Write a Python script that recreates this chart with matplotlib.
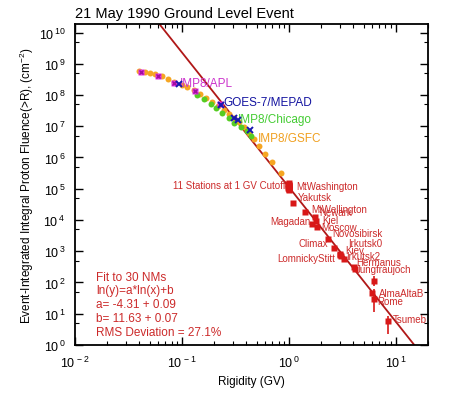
# -*- coding: utf-8 -*-
"""21 May 1990 GLE: integral proton fluence vs rigidity (satellites + neutron monitors)."""
import numpy as np
import matplotlib
matplotlib.use("Agg")
import matplotlib.pyplot as plt
from matplotlib.ticker import LogLocator, NullFormatter, FuncFormatter

plt.rcParams["font.family"] = ["Liberation Sans", "DejaVu Sans"]
plt.rcParams["mathtext.fontset"] = "custom"
plt.rcParams["mathtext.rm"] = "Liberation Sans"
plt.rcParams["mathtext.it"] = "Liberation Sans"

# %% Data
# IMP8/GSFC (orange circles)
gsfc_R = [0.0394, 0.0448, 0.0499, 0.0555, 0.0645, 0.0733, 0.0851, 0.0990, 0.1125,
          0.1307, 0.1487, 0.169, 0.192, 0.218, 0.2485, 0.2767, 0.308, 0.343,
          0.381, 0.4246, 0.472, 0.526, 0.60, 0.70, 0.84]
gsfc_F = [5.8e8, 5.5e8, 5.1e8, 4.6e8, 4.0e8, 3.2e8, 2.56e8, 2.06e8, 1.77e8,
          1.42e8, 1.06e8, 7.9e7, 5.9e7, 4.4e7, 3.3e7, 2.45e7, 1.8e7, 1.35e7,
          9.2e6, 6.3e6, 3.85e6, 2.3e6, 1.27e6, 7.1e5, 3.1e5]
# IMP8/Chicago (green circles)
chi_R = [0.139, 0.162, 0.188, 0.209, 0.237, 0.277, 0.308, 0.358, 0.406, 0.445]
chi_F = [1.0e8, 7.4e7, 5.2e7, 3.9e7, 2.7e7, 1.9e7, 1.3e7, 9.6e6, 7.0e6, 5.0e6]
# IMP8/APL (magenta)
apl_R = [0.0411, 0.0594, 0.0851, 0.1335, 0.228]
apl_F = [5.5e8, 4.0e8, 2.4e8, 1.35e8, 5.0e7]
# GOES-7/MEPAD (blue crosses)
goes_R = [0.0948, 0.233, 0.308, 0.334, 0.434]
goes_F = [2.2e8, 4.65e7, 1.9e7, 1.56e7, 7.4e6]

# 11 neutron monitors at ~1 GV cutoff
nm1_R = [0.99, 1.0, 1.01, 0.99, 1.0, 1.01, 1.0, 0.99, 1.01, 1.0, 1.0]
nm1_F = [1.42e5, 1.36e5, 1.3e5, 1.24e5, 1.18e5, 1.13e5, 1.08e5, 1.04e5, 1.0e5, 9.7e4, 9.4e4]

# labelled neutron monitors
nm_names = ["MtWashington", "Yakutsk", "MtWellington", "Newark", "Kiel", "Magadan",
            "Moscow", "Novosibirsk", "Climax", "Irkutsk0", "Kiev", "LomnickyStitt",
            "Irkutsk2", "Hermanus", "Jungfraujoch", "", "AlmaAltaB", "Rome", "Tsumeb"]
nm_R = [1.0, 1.097, 1.41, 1.77, 1.79, 1.63, 1.83, 2.32, 2.62, 3.03, 3.09, 2.98,
        3.25, 4.03, 4.17, 6.18, 5.96, 6.31, 8.51]
nm_F = [1.55e5, 3.44e4, 1.86e4, 1.2e4, 9.3e3, 7.7e3, 6.0e3, 2.42e3, 1.22e3, 800,
        706, 760, 574, 323, 265, 112, 47.6, 29, 5.9]
nm_err_lo = [0, 0, 0, 0, 0, 0, 0, 0, 0, 0, 0, 0, 0, 0, 0, 35, 0, 18, 3.7]
nm_err_hi = [0, 0, 0, 0, 0, 0, 0, 0, 0, 0, 0, 0, 0, 0, 0, 50, 0, 32, 2.6]

# fit ln(y) = a*ln(x) + b
fit_a, fit_b = -4.31, 11.63

# label offsets in pixels (dx, dy) and alignment
lab_off = [(7, -3), (5, 6), (6, 3), (4, 5), (6, 1), (-1, 3), (4, 0), (4, 6), (-6, 5),
           (8, 11), (4, 6), (-4, -3), (2, 3), (3, 5), (1, 0), (0, 0), (7, 0), (3, -2), (4, 2)]
lab_ha = ["left", "left", "left", "left", "left", "right", "left", "left", "right",
          "left", "left", "right", "left", "left", "left", "left", "left", "left", "left"]

RED = "#d81818"
TXT_RED = "#cc2a2a"


def pow10(v, pos):
    e = int(round(np.log10(v)))
    return r"$10^{\,%d}$" % e


# %% Figure
fig = plt.figure(figsize=(4.52, 4.06), dpi=100)
ax = fig.add_axes([0.166, 0.148, 0.781, 0.79])
ax.set_xscale("log")
ax.set_yscale("log")
ax.set_xlim(0.01, 20)
ax.set_ylim(1, 1.85e10)

# fit line
xf = np.logspace(-2, np.log10(20), 200)
ax.plot(xf, np.exp(fit_a * np.log(xf) + fit_b), color="#b01818", lw=1.3, zorder=2)

# satellites
ax.plot(gsfc_R, gsfc_F, "o", color="#f5a623", ms=4.3, mec="none", zorder=3)
ax.plot(chi_R, chi_F, "o", color="#55cc22", ms=4.3, mec="none", zorder=3)
ax.plot(apl_R, apl_F, "s", color="#e030e0", ms=4.5, mec="none", zorder=4)
ax.plot(apl_R, apl_F, "x", color="#a010a0", ms=3, mew=1, zorder=4)
ax.plot(goes_R, goes_F, "x", color="#1818b0", ms=4.5, mew=1.4, zorder=5)

# neutron monitors
ax.plot(nm1_R, nm1_F, "s", color=RED, ms=4.5, mec="none", zorder=4)
ax.errorbar(nm_R, nm_F, yerr=[nm_err_lo, nm_err_hi], fmt="s", color=RED,
            ms=4.5, mec="none", elinewidth=1.2, capsize=0, zorder=4)

for name, r, f, off, ha in zip(nm_names, nm_R, nm_F, lab_off, lab_ha):
    if name:
        ax.annotate(name, (r, f), xytext=off, textcoords="offset pixels",
                    ha=ha, va="center", fontsize=7, color=TXT_RED)

ax.annotate("11 Stations at 1 GV Cutoff", (0.985, 1.3e5), xytext=(-3, 0),
            textcoords="offset pixels", ha="right", va="center",
            fontsize=7, color=TXT_RED)

# satellite labels
ax.text(0.0948, 2.5e8, "IMP8/APL", color="#cc33cc", fontsize=8.5, va="center")
ax.text(0.243, 5.8e7, "GOES-7/MEPAD", color="#1414a0", fontsize=8.5, va="center")
ax.text(0.336, 1.75e7, "IMP8/Chicago", color="#44cc33", fontsize=8.5, va="center")
ax.text(0.51, 4.3e6, "IMP8/GSFC", color="#f0a020", fontsize=8.5, va="center")

# fit box
fit_lines = ["Fit to 30 NMs", "ln(y)=a*ln(x)+b", "a= -4.31 + 0.09",
             "b= 11.63 + 0.07", "RMS Deviation = 27.1%"]
ax.text(0.0595, 0.232, "\n".join(fit_lines), transform=ax.transAxes,
        color=TXT_RED, fontsize=8.5, va="top", ha="left", linespacing=1.2)

ax.set_title("21 May 1990 Ground Level Event", loc="left", fontsize=10.5, pad=5)
ax.set_xlabel("Rigidity (GV)", fontsize=8.5, labelpad=4)
ax.set_ylabel("Event-Integrated Integral Proton Fluence(>R), (cm$^{-2}$)",
              fontsize=8.5, labelpad=2)

ax.yaxis.set_major_locator(LogLocator(base=10, numticks=20))
ax.yaxis.set_minor_locator(LogLocator(base=10, subs=[5], numticks=20))
ax.yaxis.set_major_formatter(FuncFormatter(pow10))
ax.xaxis.set_major_formatter(FuncFormatter(pow10))
ax.yaxis.set_minor_formatter(NullFormatter())
ax.xaxis.set_minor_formatter(NullFormatter())
ax.tick_params(which="both", direction="in", top=True, right=True, labelsize=9)
ax.tick_params(which="major", length=6, width=1)
ax.tick_params(which="minor", length=3, width=0.8)
ax.tick_params(axis="x", pad=7)
ax.tick_params(axis="y", pad=7)
for s in ax.spines.values():
    s.set_linewidth(1.3)

fig.savefig("out.png", dpi=100)
